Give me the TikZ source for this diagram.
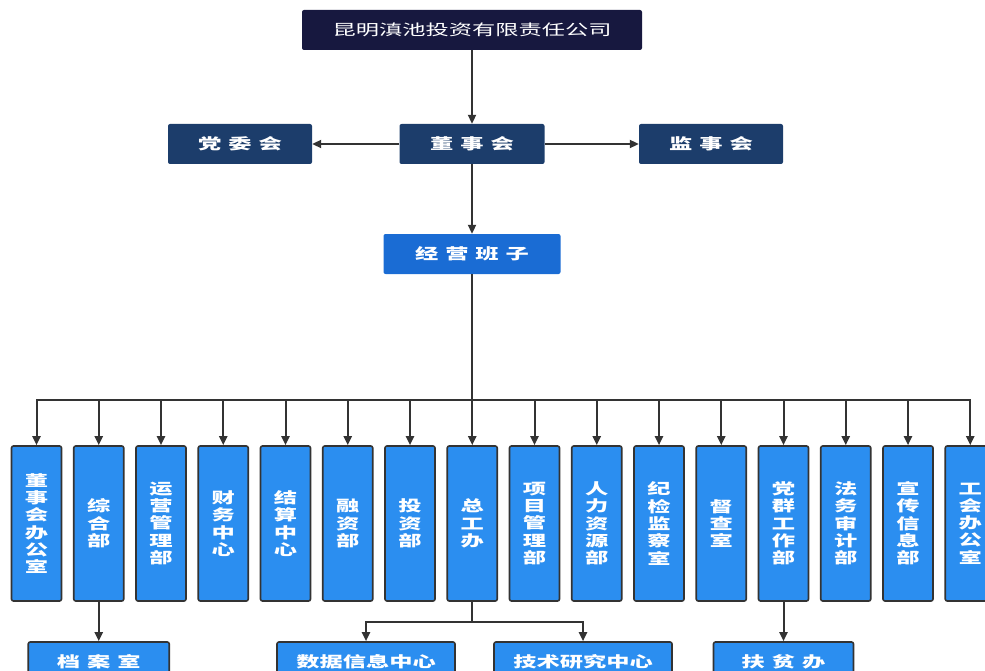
\documentclass[tikz,border=0pt]{standalone}
\usepackage{graphicx}
\usepackage{fontspec}
\newfontfamily\cjk{Noto Sans CJK SC}
\usetikzlibrary{arrows.meta}
\definecolor{navy}{HTML}{17183F}
\definecolor{darkb}{HTML}{1C3D6B}
\definecolor{midb}{HTML}{1A6CD4}
\definecolor{brightb}{HTML}{2B8EF0}
\definecolor{linec}{HTML}{333333}
\newcommand\wx[1]{\scalebox{1.55}[1]{#1}}
\newcommand\gapx{\hspace{4.5pt}}
\begin{document}
\begin{tikzpicture}[x=1pt,y=-1pt,
  box/.style={rounded corners=2pt, text=white, inner sep=0pt,
    font=\cjk\bfseries\fontsize{15}{17.3}\selectfont},
  headbox/.style={box, minimum height=40pt},
  col/.style={box, draw=black!80, line width=1.6pt, fill=brightb,
    minimum width=50pt, minimum height=155pt, align=center},
  bot/.style={box, draw=black!80, line width=1.6pt, fill=brightb, minimum height=40pt},
  arr/.style={draw=linec, line width=2pt, -{Triangle[length=9pt,width=8pt]}}]
\useasboundingbox (0,0) rectangle (985,671);

% top levels
\node[headbox, fill=navy, minimum width=340pt, font=\cjk\fontsize{15}{17.3}\selectfont] (top) at (472,30) {\wx{昆明滇池投资有限责任公司}};
\node[headbox, fill=darkb, minimum width=144pt] (dw) at (240,144) {\wx{党\gapx 委\gapx 会}};
\node[headbox, fill=darkb, minimum width=145pt] (ds) at (472,144) {\wx{董\gapx 事\gapx 会}};
\node[headbox, fill=darkb, minimum width=144pt] (js) at (711,144) {\wx{监\gapx 事\gapx 会}};
\node[headbox, fill=midb, minimum width=177pt] (jy) at (472,254) {\wx{经\gapx 营\gapx 班\gapx 子}};

% columns
\node[col] (c1) at (36.5,523.5) {\wx{董}\\\wx{事}\\\wx{会}\\\wx{办}\\\wx{公}\\\wx{室}};
\node[col] (c2) at (98.75,523.5) {\wx{综}\\\wx{合}\\\wx{部}};
\node[col] (c3) at (161,523.5) {\wx{运}\\\wx{营}\\\wx{管}\\\wx{理}\\\wx{部}};
\node[col] (c4) at (223.25,523.5) {\wx{财}\\\wx{务}\\\wx{中}\\\wx{心}};
\node[col] (c5) at (285.5,523.5) {\wx{结}\\\wx{算}\\\wx{中}\\\wx{心}};
\node[col] (c6) at (347.75,523.5) {\wx{融}\\\wx{资}\\\wx{部}};
\node[col] (c7) at (410,523.5) {\wx{投}\\\wx{资}\\\wx{部}};
\node[col] (c8) at (472.25,523.5) {\wx{总}\\\wx{工}\\\wx{办}};
\node[col] (c9) at (534.5,523.5) {\wx{项}\\\wx{目}\\\wx{管}\\\wx{理}\\\wx{部}};
\node[col] (c10) at (596.75,523.5) {\wx{人}\\\wx{力}\\\wx{资}\\\wx{源}\\\wx{部}};
\node[col] (c11) at (659,523.5) {\wx{纪}\\\wx{检}\\\wx{监}\\\wx{察}\\\wx{室}};
\node[col] (c12) at (721.25,523.5) {\wx{督}\\\wx{查}\\\wx{室}};
\node[col] (c13) at (783.5,523.5) {\wx{党}\\\wx{群}\\\wx{工}\\\wx{作}\\\wx{部}};
\node[col] (c14) at (845.75,523.5) {\wx{法}\\\wx{务}\\\wx{审}\\\wx{计}\\\wx{部}};
\node[col] (c15) at (908,523.5) {\wx{宣}\\\wx{传}\\\wx{信}\\\wx{息}\\\wx{部}};
\node[col] (c16) at (970.25,523.5) {\wx{工}\\\wx{会}\\\wx{办}\\\wx{公}\\\wx{室}};

% bottom boxes
\node[bot, minimum width=141pt] (b1) at (98.75,662) {\wx{档\gapx 案\gapx 室}};
\node[bot, minimum width=178pt] (b2) at (366,662) {\wx{数据信息中心}};
\node[bot, minimum width=178pt] (b3) at (583,662) {\wx{技术研究中心}};
\node[bot, minimum width=140pt] (b4) at (783.5,662) {\wx{扶\gapx 贫\gapx 办}};

% connectors
\draw[arr] (top) -- (ds);
\draw[arr] (ds) -- (dw);
\draw[arr] (ds) -- (js);
\draw[arr] (ds) -- (jy);
\coordinate (bus) at (472,400);
\foreach \i in {1,...,16}
  \draw[arr] (jy.south) -- (jy.south |- bus) -| (c\i.north);
\draw[arr] (c2) -- (b1);
\coordinate (zg) at (472.25,622);
\draw[arr] (c8.south) -- (zg) -| (b2.north);
\draw[arr] (c8.south) -- (zg) -| (b3.north);
\draw[arr] (c13) -- (b4);
\end{tikzpicture}
\end{document}
